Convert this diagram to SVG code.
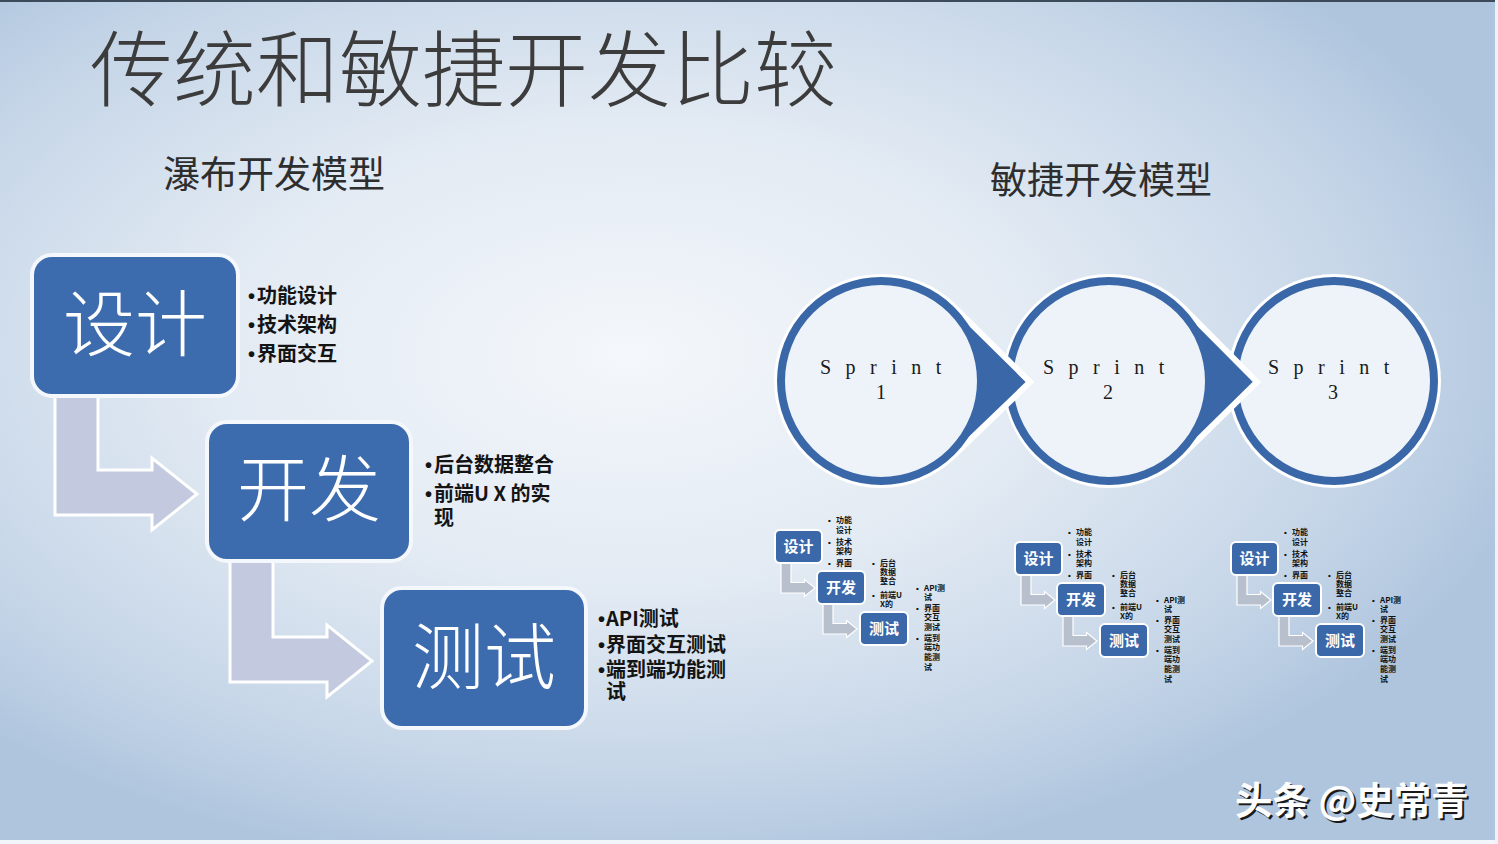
<svg xmlns="http://www.w3.org/2000/svg" width="1498" height="844" viewBox="0 0 1498 844">
<defs>
<radialGradient id="bg" cx="0.42" cy="0.42" r="0.62">
<stop offset="0" stop-color="#f4f7fb"/>
<stop offset="0.45" stop-color="#e2eaf3"/>
<stop offset="0.8" stop-color="#c6d6e8"/>
<stop offset="1" stop-color="#afc5de"/>
</radialGradient>
<style>
.cjk{font-family:"Noto Sans CJK SC","Noto Sans",sans-serif}
.title{font-size:83px;font-weight:300;fill:#3c3c3c}
.sub{font-size:37px;font-weight:400;fill:#2e2e2e}
.box{fill:#3d6cae;stroke:#f4f7fb;stroke-width:4}
.boxt{font-size:72px;font-weight:300;fill:#ffffff;text-anchor:middle}
.bul{font-size:20px;font-weight:600;fill:#141414}
.dot{font-family:"Liberation Sans",sans-serif}
.arr{fill:#c3cadf;stroke:#ffffff;stroke-width:3;stroke-linejoin:miter}
.tear{fill:#3a67a8;stroke:#ffffff;stroke-width:6}
.circ{fill:#eef3f9;stroke:#3a67a8;stroke-width:8}
.spr{font-family:"Liberation Serif",serif;font-size:20px;fill:#1a1a1a;letter-spacing:14.5px}
.num{font-family:"Liberation Serif",serif;font-size:20px;fill:#1a1a1a;text-anchor:middle}
.mbox{fill:#3a68a8;stroke:#ffffff;stroke-width:2}
.mboxt{font-size:15px;font-weight:700;fill:#ffffff;text-anchor:middle}
.marr{fill:#b8bfcd;stroke:#ffffff;stroke-width:1.2}
.mb{font-size:8px;font-weight:700;fill:#111111}
.mdot{font-family:"Liberation Sans",sans-serif}
</style>
<g id="mini">
<polygon class="marr" points="781,560 791,560 791,582.5 804.5,582.5 804.5,579.5 815,588 804.5,596.5 804.5,593 781,593"/>
<polygon class="marr" points="823,601 833,601 833,623.5 846.5,623.5 846.5,620.5 857,629 846.5,637.5 846.5,634 823,634"/>
<rect class="mbox" x="775" y="530" width="47" height="33" rx="5"/>
<text class="cjk mboxt" x="798.5" y="552">设计</text>
<rect class="mbox" x="817" y="571" width="48" height="33" rx="5"/>
<text class="cjk mboxt" x="841" y="593">开发</text>
<rect class="mbox" x="860" y="612" width="48" height="33" rx="5"/>
<text class="cjk mboxt" x="884" y="634">测试</text>
<text class="cjk mb"><tspan class="mdot" x="828" y="523">•</tspan><tspan x="836" y="523">功能</tspan><tspan x="836" y="533">设计</tspan><tspan class="mdot" x="828" y="545">•</tspan><tspan x="836" y="545">技术</tspan><tspan x="836" y="554">架构</tspan><tspan class="mdot" x="828" y="566">•</tspan><tspan x="836" y="566">界面</tspan></text>
<text class="cjk mb"><tspan class="mdot" x="872" y="566">•</tspan><tspan x="880" y="566">后台</tspan><tspan x="880" y="575">数据</tspan><tspan x="880" y="584">整合</tspan><tspan class="mdot" x="872" y="598">•</tspan><tspan x="880" y="598">前端U</tspan><tspan x="880" y="607">X的</tspan></text>
<text class="cjk mb"><tspan class="mdot" x="916" y="591">•</tspan><tspan x="924" y="591">API测</tspan><tspan x="924" y="600">试</tspan><tspan class="mdot" x="916" y="611">•</tspan><tspan x="924" y="611">界面</tspan><tspan x="924" y="620">交互</tspan><tspan x="924" y="630">测试</tspan><tspan class="mdot" x="916" y="641">•</tspan><tspan x="924" y="641">端到</tspan><tspan x="924" y="650">端功</tspan><tspan x="924" y="660">能测</tspan><tspan x="924" y="670">试</tspan></text>
</g>
</defs>
<rect x="0" y="0" width="1498" height="844" fill="url(#bg)"/>
<rect x="0" y="0" width="1498" height="2" fill="#3c4a5a"/>
<rect x="0" y="840" width="1498" height="4" fill="#f2f5f9"/>
<rect x="1495" y="0" width="3" height="844" fill="#eef2f7"/>

<text class="cjk title" x="90" y="100">传统和敏捷开发比较</text>
<text class="cjk sub" x="163" y="188">瀑布开发模型</text>
<text class="cjk sub" x="990" y="194">敏捷开发模型</text>

<g id="connectors">
<polygon class="arr" points="55,392 98,392 98,470 152,470 152,458 197,494 152,530 152,515 55,515"/>
<polygon class="arr" points="230,559 273,559 273,637 327,637 327,625 372,661 327,697 327,682 230,682"/>
</g>

<g id="node-design">
<rect class="box" x="32" y="255" width="206" height="141" rx="20"/>
<text class="cjk boxt" x="135" y="350">设计</text>
<text class="cjk bul"><tspan class="dot" x="248" y="303">•</tspan><tspan x="257" y="303">功能设计</tspan><tspan class="dot" x="248" y="332">•</tspan><tspan x="257" y="332">技术架构</tspan><tspan class="dot" x="248" y="361">•</tspan><tspan x="257" y="361">界面交互</tspan></text>
</g>
<g id="node-dev">
<rect class="box" x="207" y="422" width="204" height="139" rx="20"/>
<text class="cjk boxt" x="309" y="515" font-size="74">开发</text>
<text class="cjk bul"><tspan class="dot" x="425" y="472">•</tspan><tspan x="434" y="472">后台数据整合</tspan><tspan class="dot" x="425" y="501">•</tspan><tspan x="434" y="501">前端U X 的实</tspan><tspan x="434" y="525">现</tspan></text>
</g>
<g id="node-test">
<rect class="box" x="382" y="588" width="204" height="140" rx="20"/>
<text class="cjk boxt" x="484" y="683" font-size="74">测试</text>
<text class="cjk bul" font-size="18.5px"><tspan class="dot" x="598" y="626">•</tspan><tspan x="606" y="626">API测试</tspan><tspan class="dot" x="598" y="652">•</tspan><tspan x="606" y="652">界面交互测试</tspan><tspan class="dot" x="598" y="677">•</tspan><tspan x="606" y="677">端到端功能测</tspan><tspan x="606" y="699">试</tspan></text>
</g>

<g id="sprint-3">
<circle class="tear" cx="1334" cy="381" r="104"/>
<circle class="circ" cx="1334" cy="381" r="100"/>
<text class="spr" x="1268" y="374">Sprint</text>
<text class="num" x="1333" y="399">3</text>
</g>
<g id="sprint-2">
<path class="tear" d="M1182.2,306.7 L1257,382 L1182.2,455.3 A104,104 0 1 1 1182.2,306.7 Z"/>
<circle class="circ" cx="1109" cy="381" r="100"/>
<text class="spr" x="1043" y="374">Sprint</text>
<text class="num" x="1108" y="399">2</text>
</g>
<g id="sprint-1">
<path class="tear" d="M953.6,306.5 L1030,382 L953.6,455.5 A104,104 0 1 1 953.6,306.5 Z"/>
<circle class="circ" cx="881" cy="381" r="100"/>
<text class="spr" x="820" y="374">Sprint</text>
<text class="num" x="881" y="399">1</text>
</g>

<g id="mini-1"><use href="#mini"/></g>
<g id="mini-2"><use href="#mini" transform="translate(240,12)"/></g>
<g id="mini-3"><use href="#mini" transform="translate(456,12)"/></g>

<g id="watermark">
<text class="cjk" x="1237" y="816" font-size="37.5" font-weight="700" fill="#1a1a1a">头条 @史常青</text>
<text class="cjk" x="1235" y="814" font-size="37.5" font-weight="700" fill="#ffffff">头条 @史常青</text>
</g>
</svg>
